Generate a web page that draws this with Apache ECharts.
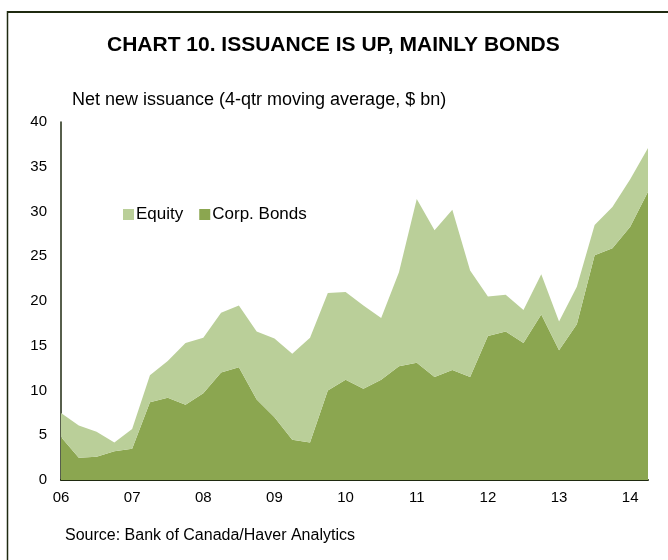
<!DOCTYPE html>
<html>
<head>
<meta charset="utf-8">
<script src="https://cdn.jsdelivr.net/npm/echarts@6/dist/echarts.min.js"></script>
<style>
html,body{margin:0;padding:0;background:#fff;}
#c{width:668px;height:560px;}
</style>
</head>
<body>
<div id="c"></div>
<script>
const quarters = [
  '06Q1','06Q2','06Q3','06Q4','07Q1','07Q2','07Q3','07Q4',
  '08Q1','08Q2','08Q3','08Q4','09Q1','09Q2','09Q3','09Q4',
  '10Q1','10Q2','10Q3','10Q4','11Q1','11Q2','11Q3','11Q4',
  '12Q1','12Q2','12Q3','12Q4','13Q1','13Q2','13Q3','13Q4',
  '14Q1','14Q2'
];
const corpBonds = [4.8,2.5,2.6,3.2,3.5,8.7,9.2,8.4,9.7,12.0,12.6,9.0,7.0,4.5,4.2,10.0,
  11.2,10.2,11.2,12.7,13.1,11.5,12.3,11.5,16.1,16.6,15.3,18.5,14.5,17.4,25.1,25.9,28.3,32.2];
const equity = [2.7,3.6,2.8,1.0,2.2,3.0,4.1,6.9,6.2,6.7,6.9,7.6,8.8,9.6,11.7,10.9,
  9.8,9.3,6.9,10.5,18.3,16.4,17.9,11.9,4.4,4.1,3.7,4.5,3.2,4.2,3.4,4.6,5.3,4.9];
const yTicks = {min:0, max:40, interval:5};

const chart = echarts.init(document.getElementById('c'));
const font = 'Liberation Sans, Arial, sans-serif';
chart.setOption({
  animation:false,
  backgroundColor:'#fff',
  textStyle:{fontFamily:font},
  title:[
    {text:'CHART 10. ISSUANCE IS UP, MAINLY BONDS', left:102, top:30,
     textStyle:{fontSize:21, fontWeight:'bold', color:'#000', fontFamily:font}},
    {text:'Net new issuance (4-qtr moving average, $ bn)', left:67, top:86,
     textStyle:{fontSize:18, fontWeight:'normal', color:'#000', fontFamily:font}},
    {text:'Source: Bank of Canada/Haver Analytics', left:60, top:523,
     textStyle:{fontSize:16, fontWeight:'normal', color:'#000', fontFamily:font}}
  ],
  legend:{
    data:['Equity','Corp. Bonds'], left:118, top:201, itemWidth:11, itemHeight:11,
    itemGap:16, icon:'rect',
    textStyle:{fontSize:17, color:'#000', fontFamily:font, padding:[0,0,0,-3]}
  },
  grid:{left:61, right:20, top:122, bottom:80},
  xAxis:{
    type:'category', data:quarters, boundaryGap:false,
    axisLine:{lineStyle:{color:'#1f2a10', width:2}},
    axisTick:{show:false},
    axisLabel:{interval:3, color:'#000', fontSize:15, margin:10,
      formatter:v=>v.slice(0,2)}
  },
  yAxis:{
    type:'value', min:yTicks.min, max:yTicks.max, interval:yTicks.interval,
    splitLine:{show:false},
    axisLine:{show:true, lineStyle:{color:'#1f2a10', width:1.5}},
    axisTick:{show:false},
    axisLabel:{color:'#000', fontSize:15, margin:14}
  },
  series:[
    {name:'Corp. Bonds', type:'line', stack:'t', data:corpBonds, symbol:'none',
     lineStyle:{width:0}, itemStyle:{color:'#8ba650'}, areaStyle:{color:'#8ba650', opacity:1}},
    {name:'Equity', type:'line', stack:'t', data:equity, symbol:'none',
     lineStyle:{width:0}, itemStyle:{color:'#bacf99'}, areaStyle:{color:'#bacf99', opacity:1}}
  ],
  graphic:[
    {type:'line', shape:{x1:7, y1:12, x2:668, y2:12}, style:{stroke:'#1f2a10', lineWidth:2}},
    {type:'line', shape:{x1:7.5, y1:11, x2:7.5, y2:560}, style:{stroke:'#1f2a10', lineWidth:1.5}}
  ]
});
</script>
</body>
</html>
